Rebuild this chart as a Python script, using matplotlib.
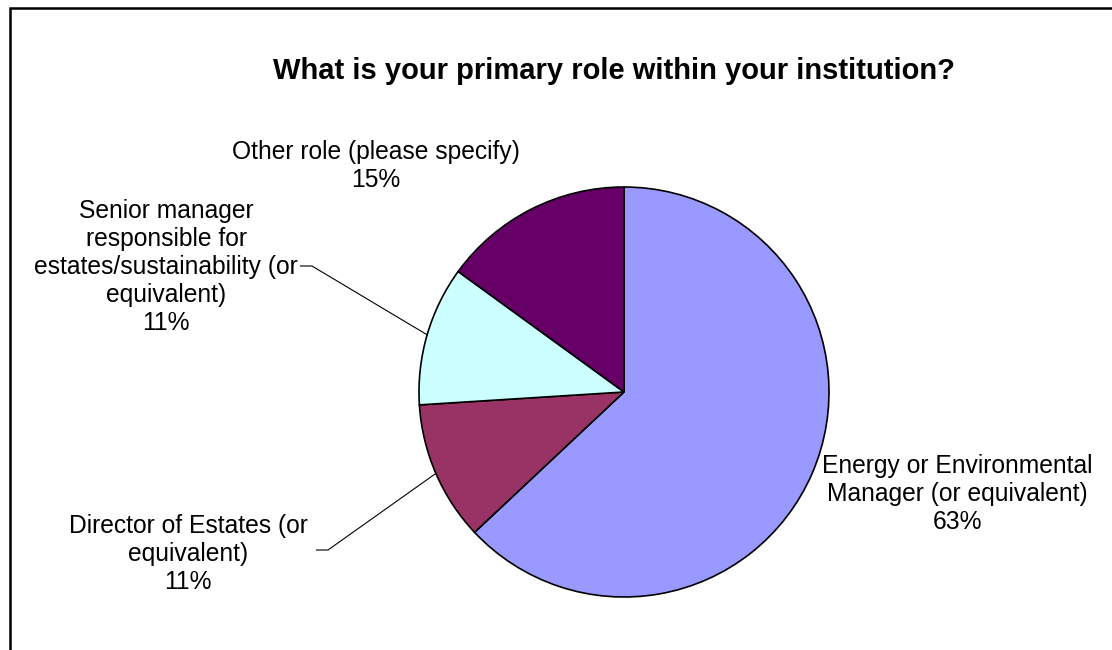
import numpy as np
import matplotlib
matplotlib.use("Agg")
import matplotlib.pyplot as plt
from matplotlib.patches import Rectangle

plt.rcParams['font.family'] = ['Liberation Sans', 'DejaVu Sans']

TITLE = "What is your primary role within your institution?"

roles = [
    "Energy or Environmental\nManager (or equivalent)",
    "Director of Estates (or\nequivalent)",
    "Senior manager\nresponsible for\nestates/sustainability (or\nequivalent)",
    "Other role (please specify)",
]
shares = [63, 11, 11, 15]
colors = ["#9999FF", "#993366", "#CCFFFF", "#660066"]

# label block centres, in pixels (y measured upwards)
label_xy = [(957, 156), (188, 96), (166, 383), (376, 484)]
# leader line anchors next to the label text (None = no leader)
leader_from = [None, (316, 100), (300, 384), None]
leader_knee = [None, (328, 100), (312, 384), None]

W, H = 1112, 650
CX, CY, R = 624, 258, 205

fig = plt.figure(figsize=(W / 100, H / 100), dpi=100)
ax = fig.add_axes([0, 0, 1, 1])

wedges, _ = ax.pie(shares, colors=colors, startangle=90, counterclock=False,
                   center=(CX, CY), radius=R,
                   wedgeprops=dict(edgecolor="black", linewidth=1.2))

ax.set_xlim(0, W)
ax.set_ylim(0, H)
ax.set_aspect("equal")
ax.axis("off")

for i, (name, val) in enumerate(zip(roles, shares)):
    lx, ly = label_xy[i]
    ax.text(lx, ly, f"{name}\n{val}%", ha="center", va="center",
            multialignment="center", fontsize=17.7, linespacing=1.22,
            color="black")
    if leader_from[i] is not None:
        w = wedges[i]
        mid = np.deg2rad((w.theta1 + w.theta2) / 2)
        ex, ey = CX + R * np.cos(mid), CY + R * np.sin(mid)
        (x0, y0), (x1, y1) = leader_from[i], leader_knee[i]
        ax.plot([x0, x1, ex], [y0, y1, ey], color="black", linewidth=0.8,
                solid_capstyle="butt")

ax.text(614, 579, TITLE, ha="center", va="center", fontsize=21,
        fontweight="bold")

# chart area frame, running off the right and bottom edges
ax.add_patch(Rectangle((10, -20), W + 40, H - 8 + 20, fill=False,
                       edgecolor="black", linewidth=1.8, clip_on=False))

fig.savefig("out.png", dpi=100, facecolor="white")
